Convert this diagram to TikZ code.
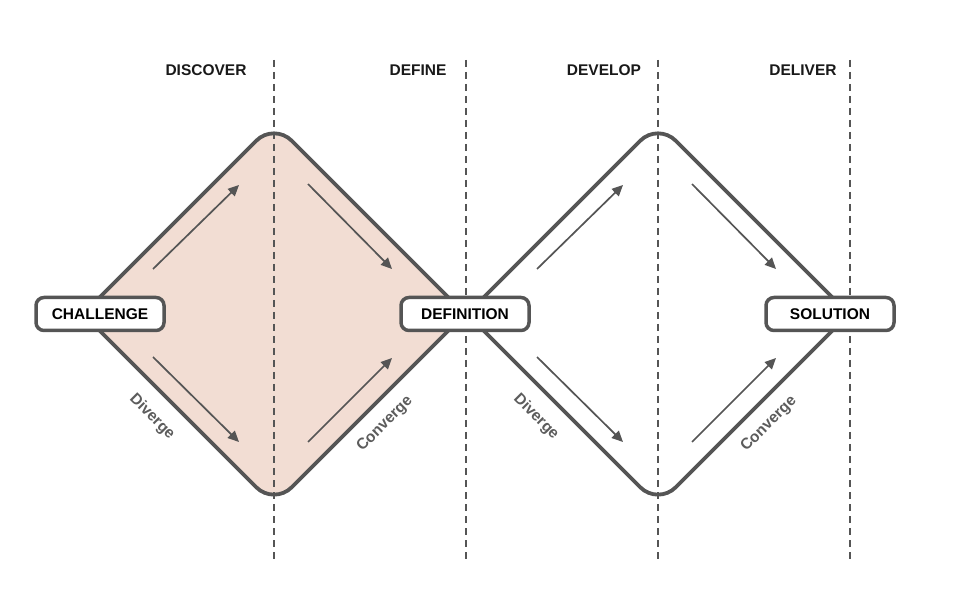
\documentclass[tikz,border=0pt]{standalone}
\usepackage{fontspec}
\setmainfont{Liberation Sans}
\usepackage{xcolor}
\usepackage{tikz}
\usetikzlibrary{arrows.meta,positioning}
\definecolor{edgegray}{HTML}{555555}
\definecolor{peach}{HTML}{F2DDD3}
\definecolor{taggray}{HTML}{5C5C5C}

\begin{document}
\begin{tikzpicture}[x=1pt, y=-1pt, every node/.style={font=\bfseries\fontsize{15.5}{18}\selectfont}]
\tikzstyle{phase} = [rectangle, rounded corners=8pt, minimum width=128pt, minimum height=33pt, inner sep=0pt, text centered, draw=edgegray, line width=3.5pt, fill=white]
\tikzstyle{header} = [text=black!90]
\tikzstyle{diamondline} = [draw=edgegray, line width=3.8pt, rounded corners=25pt]
\tikzstyle{divider} = [edgegray, line width=1.5pt, dash pattern=on 7pt off 5pt]
\tikzstyle{arrow} = [edgegray, line width=1.7pt, -{Triangle[length=11pt,width=10pt]}]
\tikzstyle{tag} = [text=taggray, font=\bfseries\fontsize{15.5}{18}\selectfont]

\useasboundingbox (0,0) rectangle (954,612);

% diamond corners
\coordinate (d1l) at (83,314);
\coordinate (d1t) at (274,123);
\coordinate (d1r) at (465,314);
\coordinate (d1b) at (274,505);
\coordinate (d2l) at (467,314);
\coordinate (d2t) at (658,123);
\coordinate (d2r) at (849,314);
\coordinate (d2b) at (658,505);

\draw[diamondline, fill=peach] (d1l) -- (d1t) -- (d1r) -- (d1b) -- cycle;
\draw[diamondline, fill=white] (d2l) -- (d2t) -- (d2r) -- (d2b) -- cycle;

% phase dividers
\coordinate (v1t) at (274,60);  \coordinate (v1b) at (274,560);
\coordinate (v2t) at (466,60);  \coordinate (v2b) at (466,560);
\coordinate (v3t) at (658,60);  \coordinate (v3b) at (658,560);
\coordinate (v4t) at (850,60);  \coordinate (v4b) at (850,560);
\draw[divider] (v1t) -- (v1b);
\draw[divider] (v2t) -- (v2b);
\draw[divider] (v3t) -- (v3b);
\draw[divider] (v4t) -- (v4b);

% inner arrows
\coordinate (a1s) at (153,269); \coordinate (a1e) at (239,185);
\coordinate (a2s) at (153,357); \coordinate (a2e) at (239,442);
\coordinate (a3s) at (308,184); \coordinate (a3e) at (392,269);
\coordinate (a4s) at (308,442); \coordinate (a4e) at (392,358);
\coordinate (a5s) at (537,269); \coordinate (a5e) at (623,185);
\coordinate (a6s) at (537,357); \coordinate (a6e) at (623,442);
\coordinate (a7s) at (692,184); \coordinate (a7e) at (776,269);
\coordinate (a8s) at (692,442); \coordinate (a8e) at (776,358);
\draw[arrow] (a1s) -- (a1e);
\draw[arrow] (a2s) -- (a2e);
\draw[arrow] (a3s) -- (a3e);
\draw[arrow] (a4s) -- (a4e);
\draw[arrow] (a5s) -- (a5e);
\draw[arrow] (a6s) -- (a6e);
\draw[arrow] (a7s) -- (a7e);
\draw[arrow] (a8s) -- (a8e);

\node (discover) [header] at (206,70) {DISCOVER};
\node (define) [header] at (418,70) {DEFINE};
\node (develop) [header] at (604,70) {DEVELOP};
\node (deliver) [header] at (803,70) {DELIVER};

\node (challenge) [phase] at (100,314) {CHALLENGE};
\node (definition) [phase, right=233.5pt of challenge] {DEFINITION};
\node (solution) [phase, right=233.5pt of definition] {SOLUTION};

\node (diverge1) [tag, rotate=-45] at (152,417) {Diverge};
\node (converge1) [tag, rotate=45] at (385,424) {Converge};
\node (diverge2) [tag, rotate=-45] at (536,417) {Diverge};
\node (converge2) [tag, rotate=45] at (769,424) {Converge};
\end{tikzpicture}
\end{document}
